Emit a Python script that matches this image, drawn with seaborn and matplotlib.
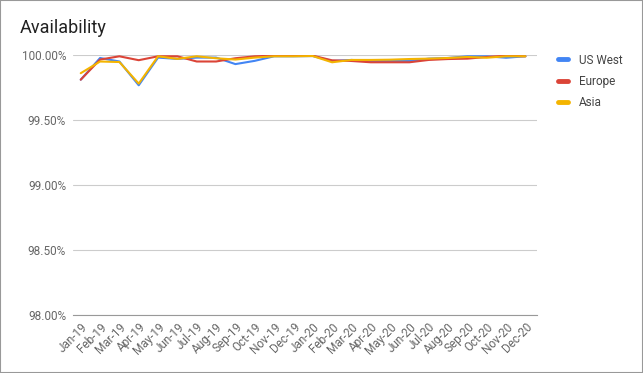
import numpy as np
import pandas as pd
import seaborn as sns
import matplotlib.pyplot as plt
from matplotlib.patches import Rectangle

months = ['Jan-19', 'Feb-19', 'Mar-19', 'Apr-19', 'May-19', 'Jun-19', 'Jul-19', 'Aug-19',
          'Sep-19', 'Oct-19', 'Nov-19', 'Dec-19', 'Jan-20', 'Feb-20', 'Mar-20', 'Apr-20',
          'May-20', 'Jun-20', 'Jul-20', 'Aug-20', 'Sep-20', 'Oct-20', 'Nov-20', 'Dec-20']

us_west = [99.81, 99.977, 99.95, 99.767, 99.98, 99.97, 99.98, 99.98, 99.93, 99.955, 99.99, 99.99,
           99.992, 99.954, 99.962, 99.954, 99.954, 99.954, 99.972, 99.977, 99.99, 99.99, 99.979, 99.99]
europe = [99.81, 99.965, 99.99, 99.96, 99.99, 99.99, 99.95, 99.95, 99.975, 99.99, 99.995, 99.995,
          99.995, 99.959, 99.954, 99.944, 99.944, 99.944, 99.962, 99.969, 99.972, 99.985, 99.995, 99.99]
asia = [99.86, 99.95, 99.946, 99.78, 99.99, 99.97, 99.99, 99.975, 99.965, 99.98, 99.99, 99.99,
        99.992, 99.944, 99.962, 99.962, 99.964, 99.969, 99.972, 99.977, 99.985, 99.979, 99.99, 99.99]

series = {'US West': us_west, 'Europe': europe, 'Asia': asia}
palette = {'US West': '#4285F4', 'Europe': '#DB4437', 'Asia': '#F4B400'}

df = pd.concat([pd.DataFrame({'month': range(len(months)), 'value': v, 'region': k})
                for k, v in series.items()], ignore_index=True)

sns.set_style('white')
plt.rcParams['font.family'] = ['Roboto', 'DejaVu Sans']

fig = plt.figure(figsize=(6.43, 3.73), dpi=100)
ax = fig.add_axes([73 / 643, 58 / 373, 464 / 643, 260 / 373])

sns.lineplot(data=df, x='month', y='value', hue='region', palette=palette,
             linewidth=1.5, ax=ax, legend=False)

ax.set_xlim(-0.4, 23.6)
ax.set_ylim(98.0, 100.0)
ax.set_yticks(np.arange(98.0, 100.01, 0.5))
ax.set_yticklabels([f'{t:.2f}%' for t in np.arange(98.0, 100.01, 0.5)])
ax.set_xticks(range(len(months)))
ax.set_xticklabels(months, rotation=45, ha='right', rotation_mode='anchor')
ax.tick_params(axis='both', length=0, labelsize=8.5, labelcolor='#666666')
ax.tick_params(axis='x', pad=4)
ax.tick_params(axis='y', pad=5)
ax.grid(axis='y', color='#cccccc', linewidth=0.8)
ax.set_axisbelow(True)
for s in ['top', 'right', 'left']:
    ax.spines[s].set_visible(False)
ax.spines['bottom'].set_color('#999999')
ax.spines['bottom'].set_linewidth(0.8)
ax.set_xlabel('')
ax.set_ylabel('')

handles = [plt.Line2D([], [], color=palette[k], linewidth=3.5) for k in series]
fig.legend(handles, list(series), loc='upper left', bbox_to_anchor=(547 / 643, 1 - 43 / 373),
           frameon=False, fontsize=8.5, handlelength=0.9, handletextpad=0.9,
           labelspacing=0.68, labelcolor='#444444')

fig.text(20 / 643, 1 - 28 / 373, 'Availability', fontsize=13, color='#222222', va='center')
fig.patches.append(Rectangle((0, 0), 1, 1, transform=fig.transFigure, fill=False,
                             edgecolor='#999999', linewidth=1.5))

fig.savefig('out.png', dpi=100)
